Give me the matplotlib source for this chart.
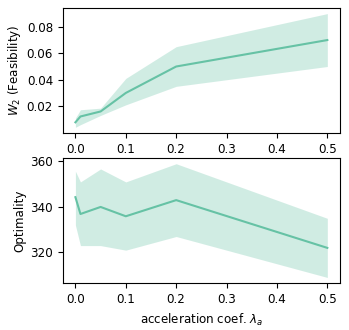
import numpy as np
import matplotlib
matplotlib.use("Agg")
import matplotlib.pyplot as plt

lam = [0.0, 0.01, 0.05, 0.1, 0.2, 0.5]

feas_mean = [0.0078, 0.0122, 0.016, 0.030, 0.050, 0.070]
feas_low = [0.004, 0.006, 0.013, 0.021, 0.035, 0.050]
feas_high = [0.011, 0.0173, 0.0185, 0.041, 0.065, 0.090]

opt_mean = [344.3, 336.9, 340.0, 335.9, 343.0, 322.0]
opt_low = [332.0, 323.0, 323.0, 321.0, 327.0, 309.0]
opt_high = [355.7, 351.0, 356.7, 351.0, 359.0, 335.0]

color = "#66c2a5"
plt.rcParams["font.size"] = 8.6

fig, (ax1, ax2) = plt.subplots(2, 1, figsize=(3.49, 3.3), dpi=100)
fig.subplots_adjust(left=0.18, right=0.974, top=0.976, bottom=0.142, hspace=0.2)

ax1.plot(lam, feas_mean, color=color)
ax1.fill_between(lam, feas_low, feas_high, color=color, alpha=0.3, linewidth=0)
ax1.set_ylabel("$W_2$ (Feasibility)", labelpad=2.5)
ax1.set_xticks([0.0, 0.1, 0.2, 0.3, 0.4, 0.5])
ax1.set_yticks([0.02, 0.04, 0.06, 0.08])

ax2.plot(lam, opt_mean, color=color)
ax2.fill_between(lam, opt_low, opt_high, color=color, alpha=0.3, linewidth=0)
ax2.set_ylabel("Optimality", labelpad=3)
ax2.set_xlabel(r"acceleration coef. $\lambda_a$")
ax2.set_xticks([0.0, 0.1, 0.2, 0.3, 0.4, 0.5])
ax2.set_yticks([320, 340, 360])

fig.savefig("out.png", dpi=100)
